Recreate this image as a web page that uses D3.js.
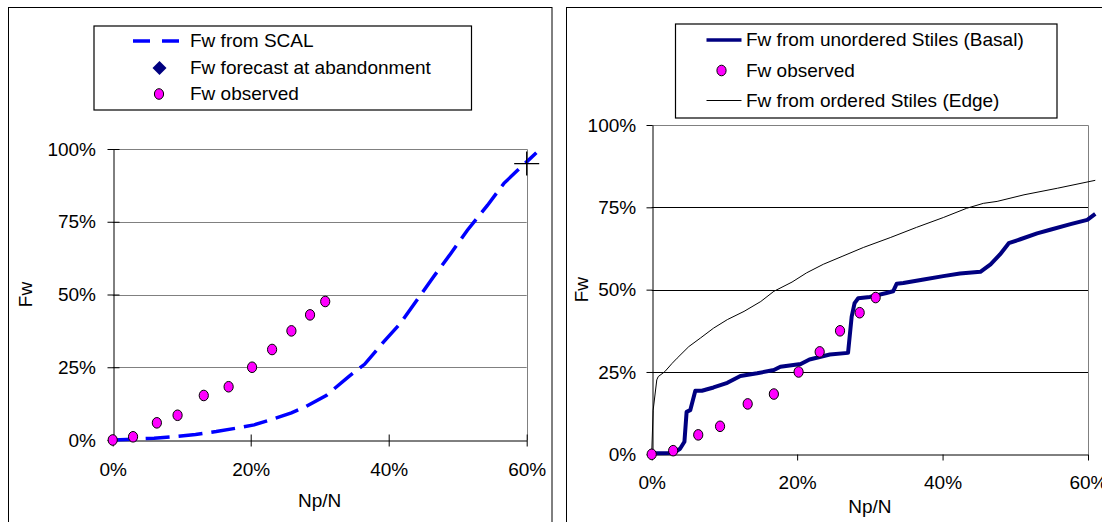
<!DOCTYPE html>
<html>
<head>
<meta charset="utf-8">
<script src="https://cdn.jsdelivr.net/npm/d3@7"></script>
<style>
  html, body { margin: 0; padding: 0; background: #fff; }
  svg { display: block; font-family: "Liberation Sans", Arial, sans-serif; }
</style>
</head>
<body>
<svg id="chart" width="1102" height="522"></svg>
<script>
// ---------- data (percent) ----------
const xTicks = [0, 20, 40, 60];
const yTicks = [0, 25, 50, 75, 100];
const gridTicks = [25, 50, 75];

// left panel
const scalX = [0, 3, 6, 9, 12, 15, 18, 20.5, 23, 25.9, 28, 31, 34.2, 36.5, 39.3, 41.7, 44.1, 46.5, 49, 51.4, 54.3, 56.7, 58.6, 61.4];
const scalY = [0, 0.3, 0.6, 1.2, 1.9, 2.9, 4.1, 5.2, 7.0, 9.3, 11.5, 15.4, 21.8, 26, 33.8, 40.1, 48.1, 56.1, 64.1, 72.1, 80.6, 88.2, 92.5, 98.7];
const forecastX = [60];
const forecastY = [95];

// observed (both panels)
const obsX = [0, 2.95, 6.4, 9.4, 13.2, 16.8, 20.2, 23.1, 25.9, 28.6, 30.8];
const obsY = [0, 1.1, 5.9, 8.5, 15.3, 18.3, 25.0, 31.1, 37.5, 43.0, 47.6];

// right panel
const basalX = [0, 0.5, 3.0, 3.9, 4.5, 4.8, 5.3, 6.0, 6.9, 8.5, 10.4, 12.2, 14.5, 16.8, 17.7, 20.5, 21.7, 24.5, 27.0, 27.5, 27.9, 28.4, 30.0, 32.3, 33.2, 33.7, 34.6, 37.4, 40.1, 42.4, 45.2, 46.6, 47.9, 49.1, 50.7, 53.0, 54.8, 57.6, 59.9, 61.0];
const basalY = [0, 0.3, 0.4, 1.7, 3.8, 12.9, 13.4, 19.3, 19.3, 20.3, 21.7, 23.8, 24.6, 25.6, 26.6, 27.4, 28.8, 30.3, 30.8, 41.8, 45.9, 47.4, 47.8, 49.0, 49.5, 51.8, 52.0, 53.1, 54.1, 54.9, 55.4, 57.7, 60.7, 64.1, 65.3, 67.1, 68.2, 69.9, 71.2, 73.0];
const edgeX = [0, 0.2, 0.7, 0.9, 1.8, 2.8, 3.5, 5.1, 6.7, 8.5, 10.4, 12.7, 15.0, 16.8, 19.3, 21.3, 23.6, 26.3, 29.1, 32.8, 36.4, 40.1, 43.3, 45.6, 47.5, 51.2, 55.8, 61.0];
const edgeY = [0, 13.4, 22.6, 23.6, 25.1, 27.6, 29.2, 32.7, 35.3, 38.3, 40.9, 43.4, 46.4, 49.5, 52.3, 55.1, 57.7, 60.2, 62.8, 65.8, 68.9, 71.9, 74.7, 76.2, 76.8, 78.8, 80.8, 83.2];

const leftLegend = ["Fw from SCAL", "Fw forecast at abandonment", "Fw observed"];
const rightLegend = ["Fw from unordered Stiles (Basal)", "Fw observed", "Fw from ordered Stiles (Edge)"];
const xTitle = "Np/N";
const yTitle = "Fw";

// ---------- drawing ----------
const svg = d3.select("#chart");
svg.append("rect").attr("width", 1102).attr("height", 522).attr("fill", "#fff");

const FS = 19;
const pct = d => d + "%";
const zip = (a, b) => a.map((v, i) => [v, b[i]]);

function panel(opt) {
  const g = svg.append("g");
  // outer panel border
  g.append("rect").attr("x", opt.border[0]).attr("y", opt.border[1])
    .attr("width", opt.border[2]).attr("height", opt.border[3])
    .attr("fill", "none").attr("stroke", "#000").attr("stroke-width", 1);

  const x = d3.scaleLinear().domain([0, 60]).range(opt.xr);
  const y = d3.scaleLinear().domain([0, 100]).range(opt.yr);

  // gridlines
  g.append("g").selectAll("line").data(gridTicks).join("line")
    .attr("x1", x(0)).attr("x2", x(60))
    .attr("y1", d => Math.round(y(d)) + 0.5).attr("y2", d => Math.round(y(d)) + 0.5)
    .attr("stroke", opt.gridColor).attr("stroke-width", 1);
  // plot area top/right border
  g.append("path")
    .attr("d", `M${x(0)},${Math.round(y(100)) + 0.5}H${Math.round(x(60)) + 0.5}V${y(0)}`)
    .attr("fill", "none").attr("stroke", "#808080").attr("stroke-width", 1);

  // axes
  const xa = g.append("g").attr("transform", `translate(0,${Math.round(y(0)) + 0.5})`)
    .call(d3.axisBottom(x).tickValues(xTicks).tickFormat(pct).tickSizeOuter(0).tickSizeInner(6));
  const ya = g.append("g").attr("transform", `translate(${Math.round(x(0)) + 0.5},0)`)
    .call(d3.axisLeft(y).tickValues(yTicks).tickFormat(pct).tickSizeOuter(0).tickSizeInner(6));
  [xa, ya].forEach(a => {
    a.select(".domain").attr("stroke", "#000");
    a.selectAll(".tick line").attr("stroke", "#000");
    a.selectAll("text").attr("font-size", FS).attr("font-family", "Liberation Sans, Arial, sans-serif").attr("fill", "#000");
  });
  if (opt.crossTicks) {
    xa.selectAll(".tick line").attr("y1", -6).attr("y2", 6);
    ya.selectAll(".tick line").attr("x1", -6).attr("x2", 6);
  }
  xa.selectAll("text").attr("y", opt.xLabelY).attr("dy", 0);
  ya.selectAll("text").attr("x", opt.yLabelX).attr("dy", "0.32em");

  // titles
  g.append("text").attr("x", (x(0) + x(60)) / 2).attr("y", opt.xTitleY)
    .attr("text-anchor", "middle").attr("font-size", FS).text(xTitle);
  g.append("text").attr("transform", `translate(${opt.yTitleX},${(y(0) + y(100)) / 2}) rotate(-90)`)
    .attr("text-anchor", "middle").attr("font-size", FS).text(yTitle);

  // legend box
  g.append("rect").attr("x", opt.legend[0]).attr("y", opt.legend[1])
    .attr("width", opt.legend[2]).attr("height", opt.legend[3])
    .attr("fill", "#fff").attr("stroke", "#000").attr("stroke-width", 1.2);

  return { g, x, y };
}

function dots(g, x, y) {
  g.append("g").selectAll("ellipse").data(zip(obsX, obsY)).join("ellipse")
    .attr("cx", d => x(d[0])).attr("cy", d => y(d[1]))
    .attr("rx", 4.6).attr("ry", 5.3)
    .attr("fill", "#FF00FF").attr("stroke", "#000").attr("stroke-width", 1);
}

// ----- left panel -----
const L = panel({
  border: [8.5, 7.5, 543.5, 600],
  xr: [112.7, 526.7], yr: [440, 149],
  gridColor: "#808080", crossTicks: true,
  xLabelY: 35, yLabelX: -17.5,
  xTitleY: 507, yTitleX: 31.5,
  legend: [94, 26, 377.5, 84]
});
L.g.append("path").datum(zip(scalX, scalY))
  .attr("d", d3.line().x(d => L.x(d[0])).y(d => L.y(d[1])))
  .attr("fill", "none").attr("stroke", "#0000FF").attr("stroke-width", 3.5)
  .attr("stroke-dasharray", "24 9");
dots(L.g, L.x, L.y);
// forecast at abandonment (shown as cross)
L.g.append("g").selectAll("path").data(zip(forecastX, forecastY)).join("path")
  .attr("d", d => {
    const cx = L.x(d[0]), cy = L.y(d[1]);
    return `M${cx - 12.5},${cy}H${cx + 12.5}M${cx},${cy - 12}V${cy + 12}`;
  })
  .attr("stroke", "#000").attr("stroke-width", 1.3).attr("fill", "none");

// left legend
{
  const rows = [41, 68, 94];
  const lg = L.g.append("g");
  lg.append("line").attr("x1", 133).attr("x2", 179).attr("y1", rows[0]).attr("y2", rows[0])
    .attr("stroke", "#0000FF").attr("stroke-width", 3.5).attr("stroke-dasharray", "17 12");
  lg.append("path").attr("d", `M159.5,${rows[1] - 7}L166.5,${rows[1]}L159.5,${rows[1] + 7}L152.5,${rows[1]}Z`)
    .attr("fill", "#000080");
  lg.append("ellipse").attr("cx", 159).attr("cy", rows[2]).attr("rx", 4.6).attr("ry", 5.3)
    .attr("fill", "#FF00FF").attr("stroke", "#000").attr("stroke-width", 1);
  lg.selectAll("text").data(leftLegend).join("text")
    .attr("x", 190).attr("y", (d, i) => rows[i]).attr("dy", "0.32em")
    .attr("font-size", FS).text(d => d);
}

// ----- right panel -----
const R = panel({
  border: [566.5, 7.5, 600, 600],
  xr: [651.7, 1088], yr: [454.3, 125],
  gridColor: "#000", crossTicks: false,
  xLabelY: 34, yLabelX: -16.3,
  xTitleY: 513, yTitleX: 587.5,
  legend: [675.5, 24, 381.5, 94]
});
R.g.append("path").datum(zip(edgeX, edgeY))
  .attr("d", d3.line().x(d => R.x(d[0])).y(d => R.y(d[1])))
  .attr("fill", "none").attr("stroke", "#000").attr("stroke-width", 1);
R.g.append("path").datum(zip(basalX, basalY))
  .attr("d", d3.line().x(d => R.x(d[0])).y(d => R.y(d[1])))
  .attr("fill", "none").attr("stroke", "#000080").attr("stroke-width", 4)
  .attr("stroke-linejoin", "round");
dots(R.g, R.x, R.y);

// right legend
{
  const rows = [40, 70.5, 100.5];
  const lg = R.g.append("g");
  lg.append("line").attr("x1", 706.5).attr("x2", 741.5).attr("y1", rows[0]).attr("y2", rows[0])
    .attr("stroke", "#000080").attr("stroke-width", 3.5);
  lg.append("ellipse").attr("cx", 721.5).attr("cy", rows[1]).attr("rx", 4.6).attr("ry", 5.3)
    .attr("fill", "#FF00FF").attr("stroke", "#000").attr("stroke-width", 1);
  lg.append("line").attr("x1", 706.5).attr("x2", 741.5).attr("y1", rows[2]).attr("y2", rows[2])
    .attr("stroke", "#000").attr("stroke-width", 1);
  lg.selectAll("text").data(rightLegend).join("text")
    .attr("x", 746).attr("y", (d, i) => rows[i]).attr("dy", "0.34em")
    .attr("font-size", FS).text(d => d);
}
</script>
</body>
</html>
